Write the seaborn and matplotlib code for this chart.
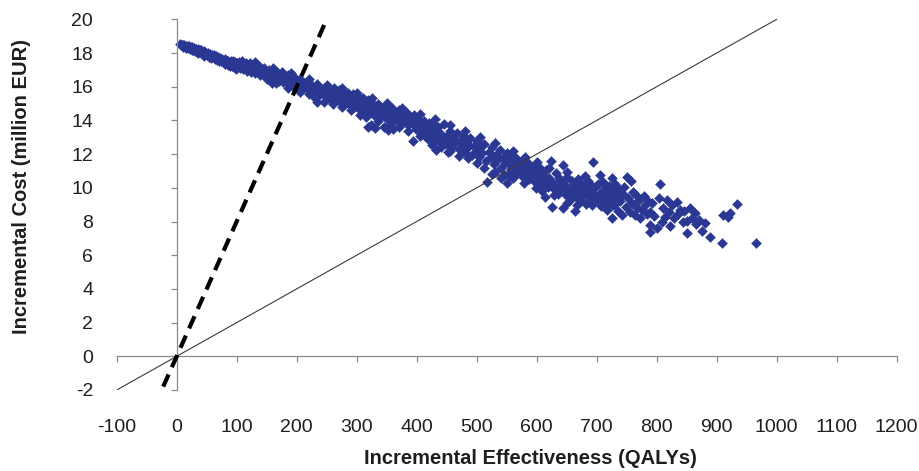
import matplotlib
matplotlib.use("Agg")
import matplotlib.pyplot as plt
import seaborn as sns
import numpy as np
import pandas as pd

# ---------------- data ----------------
# incremental effectiveness (QALYs) of PSA iterations
qalys = [
    # 0-100
    5, 7, 8, 10, 11, 12, 14, 15, 16, 18,
    19, 20, 22, 23, 25, 26, 27, 29, 30, 32,
    33, 35, 36, 38, 40, 41, 43, 45, 46, 48,
    50, 52, 53, 55, 57, 58, 60, 62, 64, 65,
    67, 69, 70, 72, 74, 76, 78, 80, 81, 83,
    85, 86, 88, 90, 92, 93, 95, 97, 98, 100,
    # 100-250
    102, 104, 105, 107, 109, 110, 112, 114, 115, 117,
    119, 120, 122, 124, 126, 127, 129, 131, 133, 135,
    137, 139, 140, 142, 145, 147, 149, 151, 153, 155,
    157, 159, 161, 163, 165, 168, 170, 172, 175, 177,
    180, 182, 185, 187, 190, 192, 195, 197, 200, 203,
    206, 209, 212, 215, 218, 222, 225, 228, 231, 234,
    237, 240, 243, 246, 249, 230, 245, 255, 158, 233,
    # 250-400
    252, 254, 256, 258, 260, 262, 264, 266, 268, 270,
    272, 274, 276, 278, 280, 282, 284, 286, 288, 290,
    292, 294, 296, 298, 300, 302, 304, 306, 308, 310,
    312, 314, 316, 318, 320, 322, 324, 326, 328, 330,
    333, 336, 338, 341, 344, 347, 350, 353, 356, 359,
    362, 365, 368, 371, 374, 377, 380, 383, 386, 389,
    392, 395, 398, 400, 323, 330, 345, 352, 360, 319,
    # 400-550
    402, 404, 406, 408, 410, 412, 414, 416, 418, 420,
    422, 424, 426, 428, 430, 432, 434, 436, 438, 440,
    443, 446, 448, 450, 453, 456, 458, 461, 464, 467,
    470, 472, 475, 478, 480, 483, 486, 489, 492, 495,
    498, 500, 503, 506, 509, 512, 515, 517, 520, 523,
    526, 529, 532, 535, 538, 541, 544, 547, 550, 550,
    394, 432, 452, 525, 540, 555,
    # 550-700
    552, 555, 557, 560, 562, 565, 567, 570, 572, 575,
    577, 580, 582, 585, 587, 590, 592, 595, 597, 600,
    602, 605, 607, 610, 612, 614, 616, 618, 620, 623,
    625, 627, 629, 632, 634, 636, 639, 641, 643, 644,
    646, 648, 651, 653, 655, 658, 660, 662, 664, 666,
    668, 670, 673, 675, 677, 680, 682, 685, 687, 690,
    692, 694, 696, 698, 700,
    # 700-970
    702, 704, 705, 707, 709, 711, 713, 715, 717, 719,
    721, 723, 725, 725, 727, 729, 731, 733, 735, 737,
    739, 742, 744, 746, 748, 750, 752, 755, 757, 759,
    761, 763, 765, 767, 770, 772, 775, 778, 780, 783,
    786, 788, 789, 789, 792, 795, 800, 803, 805, 808,
    811, 814, 817, 820, 822, 825, 828, 833, 836, 839,
    843, 846, 850, 851, 855, 858, 863, 865, 870, 875,
    880, 888, 909, 910, 919, 922, 933, 966,
    # band edges (lower)
    150, 165, 185, 205, 220, 260, 275, 290, 305, 315,
    335, 355, 370, 385, 405, 418, 425, 440, 455, 470,
    485, 500, 512, 530, 545, 560,
    # band edges (upper)
    130, 160, 190, 220, 250, 275, 300, 325, 350, 375,
    405, 430, 455, 480, 505, 530, 560, 580, 600, 620,
    650, 680,
    # interior 550-740
    556, 568, 578, 588, 598, 608, 615, 628, 637, 650,
    657, 667, 672, 683, 689, 699, 708, 716, 726, 738,
]

# incremental cost (million EUR)
costs = [
    # 0-100
    18.52, 18.50, 18.45, 18.48, 18.38, 18.47, 18.36, 18.44, 18.30, 18.40,
    18.28, 18.42, 18.25, 18.36, 18.20, 18.33, 18.15, 18.30, 18.12, 18.25,
    18.05, 18.22, 18.00, 18.18, 17.98, 18.15, 17.92, 18.10, 17.85, 18.02,
    17.88, 17.98, 17.78, 17.95, 17.70, 17.90, 17.75, 17.88, 17.62, 17.80,
    17.58, 17.75, 17.52, 17.70, 17.50, 17.65, 17.42, 17.62, 17.35, 17.55,
    17.30, 17.50, 17.25, 17.55, 17.20, 17.50, 17.15, 17.45, 17.08, 17.40,
    # 100-250
    17.25, 17.48, 17.10, 17.35, 17.55, 17.05, 17.30, 17.18, 17.42, 16.95,
    17.28, 17.12, 17.38, 16.90, 17.20, 17.05, 17.30, 16.80, 17.15, 16.95,
    17.22, 16.70, 17.05, 16.88, 17.10, 16.62, 16.95, 16.78, 17.00, 16.55,
    16.85, 16.40, 16.72, 16.95, 16.50, 16.80, 16.35, 16.62, 16.85, 16.25,
    16.55, 16.40, 16.70, 16.15, 16.45, 16.30, 16.60, 15.95, 16.30, 16.10,
    16.45, 15.85, 16.20, 16.00, 16.35, 15.75, 16.05, 15.60, 15.90, 16.15,
    15.50, 15.80, 15.65, 15.95, 15.40, 15.35, 15.10, 15.25, 16.20, 15.10,
    # 250-400
    15.55, 15.85, 15.30, 15.70, 15.45, 15.95, 15.20, 15.60, 15.40, 15.80,
    15.10, 15.50, 15.30, 15.70, 14.95, 15.40, 15.20, 15.60, 14.90, 15.35,
    15.05, 15.55, 14.80, 15.20, 15.00, 15.40, 14.70, 15.10, 14.85, 15.30,
    14.55, 14.95, 14.75, 15.20, 14.45, 14.85, 14.60, 15.05, 14.35, 14.75,
    14.50, 14.95, 14.20, 14.65, 14.40, 14.85, 14.10, 14.55, 14.30, 14.75,
    13.95, 14.40, 14.15, 14.60, 13.85, 14.25, 14.00, 14.45, 13.70, 14.10,
    13.85, 14.30, 13.50, 13.95, 13.75, 13.55, 13.60, 13.45, 13.50, 13.60,
    # 400-550
    13.60, 14.05, 13.30, 13.80, 13.45, 13.95, 13.10, 13.55, 13.35, 13.85,
    12.95, 13.40, 13.20, 13.70, 12.80, 13.30, 13.05, 13.60, 12.70, 13.20,
    12.95, 13.80, 12.60, 13.10, 12.85, 13.40, 12.45, 12.95, 12.70, 13.25,
    12.30, 12.80, 12.55, 13.10, 12.15, 12.65, 12.40, 12.95, 11.95, 12.50,
    12.20, 12.75, 11.80, 12.35, 12.05, 12.60, 11.60, 10.35, 12.15, 11.85,
    12.45, 11.40, 11.95, 11.70, 12.25, 11.20, 11.75, 11.50, 10.30, 12.05,
    12.75, 12.24, 12.15, 10.80, 10.60, 10.90,
    # 550-700
    11.45, 11.90, 11.10, 11.60, 11.25, 11.75, 10.85, 11.40, 11.05, 11.55,
    10.65, 11.20, 10.90, 11.45, 10.50, 11.05, 10.75, 11.30, 10.35, 10.90,
    10.60, 11.20, 10.20, 10.75, 10.45, 9.47, 11.05, 10.05, 10.60, 11.60,
    8.88, 10.30, 9.90, 10.85, 10.10, 9.65, 10.45, 9.85, 11.35, 8.80,
    10.20, 9.55, 10.65, 9.95, 9.30, 10.40, 9.70, 10.15, 8.62, 9.45,
    10.55, 9.85, 9.20, 10.25, 9.60, 9.95, 9.05, 10.40, 9.40, 9.80,
    8.95, 11.55, 9.65, 10.10, 9.25,
    # 700-970
    10.20, 9.50, 10.76, 8.90, 9.80, 10.35, 9.15, 9.95, 8.70, 9.60,
    10.10, 9.30, 10.56, 8.19, 9.75, 8.95, 10.25, 9.45, 8.60, 9.90,
    9.20, 8.39, 9.65, 10.05, 8.85, 10.66, 9.40, 8.55, 10.40, 9.10,
    9.75, 8.40, 9.55, 8.78, 9.25, 8.19, 8.70, 9.51, 8.95, 8.45,
    9.20, 7.39, 8.58, 7.79, 9.08, 8.30, 7.60, 9.38, 10.20, 7.99,
    8.80, 8.25, 9.28, 8.55, 7.73, 8.95, 8.20, 9.18, 8.45, 8.68,
    7.95, 8.60, 8.03, 7.34, 8.78, 8.20, 8.52, 7.85, 8.10, 7.44,
    7.90, 7.10, 6.74, 8.39, 8.29, 8.52, 9.04, 6.74,
    # band edges (lower)
    16.45, 16.20, 15.95, 15.70, 15.55, 15.00, 14.80, 14.60, 14.35, 14.20,
    13.95, 13.75, 13.60, 13.40, 13.05, 12.90, 12.55, 12.40, 12.20, 11.90,
    11.75, 11.50, 11.20, 10.95, 10.75, 10.60,
    # band edges (upper)
    17.45, 17.10, 16.80, 16.45, 16.10, 15.95, 15.65, 15.35, 15.05, 14.75,
    14.40, 14.10, 13.70, 13.35, 13.00, 12.65, 12.20, 11.85, 11.55, 11.20,
    10.95, 10.70,
    # interior 550-740
    10.70, 11.00, 10.30, 10.80, 10.00, 9.80, 10.35, 9.60, 10.60, 9.10,
    9.90, 9.00, 10.00, 9.60, 10.20, 9.50, 9.40, 10.00, 9.00, 9.55,
]

# willingness-to-pay thresholds (million EUR per QALY)
wtp_thin = 0.02     # 20,000 EUR/QALY
wtp_dashed = 0.08   # 80,000 EUR/QALY

x_ticks = list(range(-100, 1201, 100))
y_ticks = list(range(-2, 21, 2))
x_min, x_max = -100, 1200
y_min, y_max = -2, 20

df = pd.DataFrame({"qalys": qalys, "cost": costs})

# ---------------- style ----------------
sns.set_theme(style="white")
plt.rcParams["font.family"] = ["Liberation Sans", "DejaVu Sans"]

W, H = 920, 471
fig = plt.figure(figsize=(W / 100, H / 100), dpi=100)
left_px, right_px, top_px, bottom_px = 116.7, 896.7, 19.3, 390.0
ax = fig.add_axes([left_px / W, 1 - bottom_px / H,
                   (right_px - left_px) / W, (bottom_px - top_px) / H])

point_color = "#2B3893"
sns.scatterplot(data=df, x="qalys", y="cost", marker="D", s=26,
                color=point_color, edgecolor=point_color, linewidth=0.3,
                ax=ax, zorder=2, legend=False)

# threshold lines, spanning the visible cost range
line_df_thin = pd.DataFrame({"x": [y_min / wtp_thin, y_max / wtp_thin]})
line_df_thin["y"] = line_df_thin["x"] * wtp_thin
line_df_dash = pd.DataFrame({"x": [y_min / wtp_dashed * 0.9, y_max / wtp_dashed * 0.995]})
line_df_dash["y"] = line_df_dash["x"] * wtp_dashed
ax.plot(line_df_thin["x"], line_df_thin["y"], color="#3a3a3a", lw=0.8, zorder=3)
ax.plot(line_df_dash["x"], line_df_dash["y"], color="black", lw=3.0,
        dashes=(3.2, 1.9), zorder=3)

ax.set_xlim(x_min, x_max)
ax.set_ylim(y_min, y_max)

# axis lines through the origin
axis_gray = "#8a8a8a"
for side in ["top", "right"]:
    ax.spines[side].set_visible(False)
ax.spines["left"].set_position(("data", 0))
ax.spines["bottom"].set_position(("data", 0))
for side in ["left", "bottom"]:
    ax.spines[side].set_color(axis_gray)
    ax.spines[side].set_linewidth(0.9)
ax.set_xticks(x_ticks)
ax.set_yticks(y_ticks)
ax.tick_params(axis="both", direction="out", length=4.5, width=0.9,
               color=axis_gray, labelleft=False, labelbottom=False,
               left=True, bottom=True)
ax.set_xlabel("")
ax.set_ylabel("")
ax.grid(False)

# tick labels at the low edge of the plot
label_color = "#1e1e1e"
secx = ax.secondary_xaxis("bottom")
secx.set_xticks(x_ticks)
secx.set_xticklabels([str(v) for v in x_ticks])
secx.spines["bottom"].set_visible(False)
secx.tick_params(length=0, pad=21, labelsize=14, labelcolor=label_color)

secy = ax.secondary_yaxis("left")
secy.set_yticks(y_ticks)
secy.set_yticklabels([str(v) for v in y_ticks])
secy.spines["left"].set_visible(False)
secy.tick_params(length=0, pad=17, labelsize=14, labelcolor=label_color)

# axis titles
fig.text(530 / W, 1 - 459 / H, "Incremental Effectiveness (QALYs)",
         ha="center", va="center", fontsize=14.5, fontweight="bold",
         color=label_color)
fig.text(22 / W, 1 - 186 / H, "Incremental Cost (million EUR)",
         ha="center", va="center", rotation=90, fontsize=14.5,
         fontweight="bold", color=label_color)

fig.savefig("out.png", dpi=100)
